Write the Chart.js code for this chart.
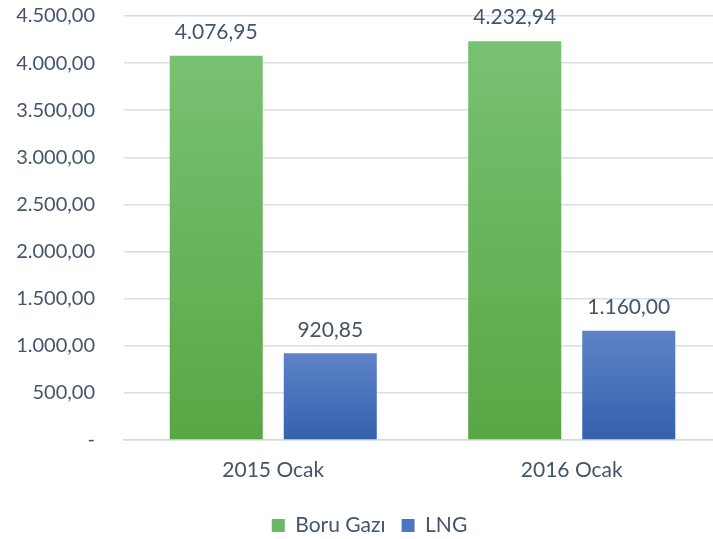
<!DOCTYPE html>
<html>
<head>
<meta charset="utf-8">
<script src="https://cdn.jsdelivr.net/npm/chart.js@4/dist/chart.umd.min.js"></script>
<style>
    html, body { margin: 0; padding: 0; background: #fff; }
    #wrap { width: 713px; height: 539px; }
</style>
</head>
<body>
<div id="wrap"><canvas id="gas" width="713" height="539"></canvas></div>
<script>
const categories = ['2015 Ocak', '2016 Ocak'];
const boruGazi = [4076.95, 4232.94];
const lng = [920.85, 1160.00];
const seriesNames = ['Boru Gazı', 'LNG'];

const textColor = '#44546a';
const fontFamily = 'Lato, "Open Sans", sans-serif';

function formatTr(v) {
    if (v === 0) return '-';
    const parts = v.toFixed(2).split('.');
    const intPart = parts[0].replace(/\B(?=(\d{3})+(?!\d))/g, '.');
    return intPart + ',' + parts[1];
}

// gradient spans each bar on its own, like an office fill
function gradient(ctx, top, bottom) {
    const y = ctx.chart.scales.y;
    if (!y || ctx.raw === undefined) return bottom;
    const yTop = y.getPixelForValue(ctx.raw);
    const yBottom = y.getPixelForValue(0);
    if (!isFinite(yTop) || !isFinite(yBottom) || yTop === yBottom) return bottom;
    const g = ctx.chart.ctx.createLinearGradient(0, yTop, 0, yBottom);
    g.addColorStop(0, top);
    g.addColorStop(1, bottom);
    return g;
}

const valueLabels = {
    id: 'valueLabels',
    afterDatasetsDraw(chart) {
        const c = chart.ctx;
        c.save();
        c.font = '21px ' + fontFamily;
        c.fillStyle = textColor;
        c.textAlign = 'center';
        c.textBaseline = 'bottom';
        chart.data.datasets.forEach((ds, i) => {
            chart.getDatasetMeta(i).data.forEach((bar, j) => {
                c.fillText(formatTr(ds.data[j]), bar.x, bar.y - 13);
            });
        });
        c.restore();
    }
};

// nudge the legend and let the plot run a little past the right edge
const layoutTweak = {
    id: 'layoutTweak',
    afterLayout(chart) {
        chart.legend.top += 7;
        chart.legend.bottom += 7;
        chart.legend.left += 13;
        chart.legend.right += 13;
        const x = chart.scales.x;
        x.right += 8;
        x.width += 8;
        x.configure();
        chart.chartArea.right += 8;
        chart.chartArea.width += 8;
    }
};

new Chart(document.getElementById('gas'), {
    type: 'bar',
    data: {
        labels: categories,
        datasets: [
            {
                label: seriesNames[0],
                data: boruGazi,
                backgroundColor: (ctx) => gradient(ctx, '#78c172', '#58a745'),
                categoryPercentage: 0.764,
                barPercentage: 0.816,
            },
            {
                label: seriesNames[1],
                data: lng,
                backgroundColor: (ctx) => gradient(ctx, '#5e83c6', '#3461ad'),
                categoryPercentage: 0.764,
                barPercentage: 0.816,
            },
        ],
    },
    options: {
        responsive: false,
        animation: false,
        layout: {
            padding: { top: 16, right: 0, left: 0, bottom: 0 }
        },
        plugins: {
            legend: {
                position: 'bottom',
                labels: {
                    color: textColor,
                    font: { family: fontFamily, size: 21 },
                    boxWidth: 13,
                    boxHeight: 13,
                    padding: 16,
                    generateLabels(chart) {
                        const cols = ['#6cb864', '#4d75c0'];
                        return chart.data.datasets.map((ds, i) => ({
                            text: ds.label,
                            fillStyle: cols[i],
                            strokeStyle: cols[i],
                            lineWidth: 0,
                            datasetIndex: i,
                            fontColor: textColor,
                        }));
                    }
                }
            },
            tooltip: { enabled: false },
        },
        scales: {
            x: {
                grid: { display: false },
                border: { color: '#d4d9e1', width: 1.5 },
                ticks: {
                    color: textColor,
                    font: { family: fontFamily, size: 21 },
                    padding: 10,
                },
                afterFit(scale) {
                    scale.height = 52;
                    scale.paddingLeft = 0;
                    scale.paddingRight = 0;
                },
            },
            y: {
                min: 0,
                max: 4500,
                grid: { color: '#d8dde6', lineWidth: 1.5, drawTicks: false },
                border: { display: false },
                ticks: {
                    stepSize: 500,
                    color: textColor,
                    font: { family: fontFamily, size: 20 },
                    padding: 29,
                    callback: (v) => formatTr(v),
                },
                afterFit(scale) {
                    scale.width = 124;
                    scale.paddingTop = 0;
                    scale.paddingBottom = 0;
                },
            },
        },
    },
    plugins: [valueLabels, layoutTweak],
});
</script>
</body>
</html>
